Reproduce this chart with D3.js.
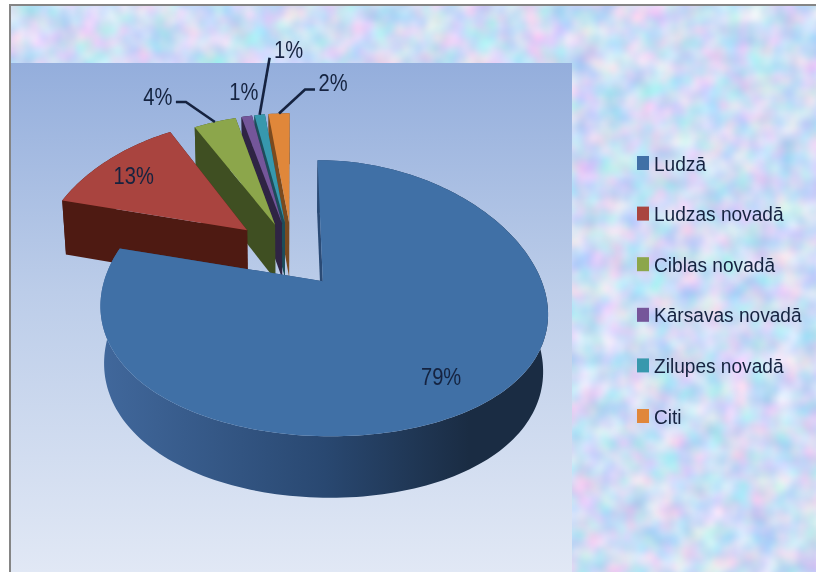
<!DOCTYPE html>
<html>
<head>
<meta charset="utf-8">
<script src="https://cdn.jsdelivr.net/npm/d3@7"></script>
<style>
html,body{margin:0;padding:0;background:#fff;overflow:hidden}
text{font-family:"Liberation Sans",sans-serif;fill:#14233f}
</style>
</head>
<body>
<div id="chart"></div>
<script>
var categories = ["Ludzā", "Ludzas novadā", "Ciblas novadā", "Kārsavas novadā", "Zilupes novadā", "Citi"];
var values = [79, 13, 4, 1, 1, 2];
var topColors = ["#4070a6", "#a9443f", "#8ca64b", "#74569a", "#3798ad", "#e0873a"];
var sideColors = ["#2a4a75", "#4e1a12", "#3f4f22", "#2f2444", "#1d4d5a", "#7a4a1f"];

var width = 816, height = 572;
var explodeX = 0.23, explodeY = 0.255;
var explodeScale = [1, 1.22, 1, 1, 1, 1];

// simple perspective camera for the tilted pie, z goes from top face (0) to bottom face (1)
var cam = {cx: 292, cy: 254.5, R: 210, k: 129.5, h: 57, px: 0.2, py: 0.12, q: 0.018};
function project(u, v, z){
    var wx = 1 - cam.px*v + cam.q*z;
    var wy = 1 - cam.py*v + cam.q*z;
    return [cam.cx + cam.R*u/wx, cam.cy + (cam.k*v + cam.h*z)/wy];
}
function rimPoint(s, a, r, z){
    return project(s.ox + r*Math.sin(a), s.oy - r*Math.cos(a), z);
}

var svg = d3.select('#chart').append('svg')
    .attr('width', width)
    .attr('height', height)
    .style('display', 'block');
var defs = svg.append('defs');

// mottled paper background
var paper = defs.append('filter').attr('id', 'paper')
    .attr('x', 0).attr('y', 0).attr('width', '100%').attr('height', '100%')
    .attr('color-interpolation-filters', 'sRGB');
paper.append('feTurbulence').attr('type', 'fractalNoise')
    .attr('baseFrequency', 0.04).attr('numOctaves', 2).attr('seed', 11);
paper.append('feColorMatrix').attr('type', 'matrix')
    .attr('values', '0.45 0 0 0 0.58  0 0.25 0 0 0.74  0 0 0.12 0 0.9  0 0 0 0 1');

// blurry scan look for the texts
var soft = defs.append('filter').attr('id', 'soft');
soft.append('feGaussianBlur').attr('stdDeviation', 0.4);

var plotGrad = defs.append('linearGradient').attr('id', 'plotGrad')
    .attr('x1', 0).attr('y1', 0).attr('x2', 0).attr('y2', 1);
plotGrad.append('stop').attr('offset', '0%').attr('stop-color', '#94aedc');
plotGrad.append('stop').attr('offset', '45%').attr('stop-color', '#bccde9');
plotGrad.append('stop').attr('offset', '100%').attr('stop-color', '#e1e8f5');

// the rim shading goes dark from left to right
var rimGrad = defs.append('linearGradient').attr('id', 'rimGrad')
    .attr('gradientUnits', 'userSpaceOnUse')
    .attr('x1', 100).attr('y1', 0).attr('x2', 550).attr('y2', 0);
rimGrad.append('stop').attr('offset', '0%').attr('stop-color', '#41689c');
rimGrad.append('stop').attr('offset', '50%').attr('stop-color', '#294871');
rimGrad.append('stop').attr('offset', '82%').attr('stop-color', '#1a2c43');
rimGrad.append('stop').attr('offset', '100%').attr('stop-color', '#1a2c43');

svg.append('rect').attr('x', 10).attr('y', 5).attr('width', width - 10).attr('height', height - 5)
    .attr('fill', '#cfe2f8').attr('filter', 'url(#paper)');
svg.append('rect').attr('x', 11).attr('y', 63).attr('width', 561).attr('height', height - 63)
    .attr('fill', 'url(#plotGrad)');
svg.append('path').attr('d', 'M10,' + height + 'V5H' + width)
    .attr('fill', 'none').attr('stroke', '#858585').attr('stroke-width', 2);

// pie
var pie = d3.pie().sort(null).value(function(d){ return d; });
var slices = pie(values).map(function(d, i){
    var mid = (d.startAngle + d.endAngle)/2;
    return {
	i: i, start: d.startAngle, end: d.endAngle, mid: mid,
	ox: explodeScale[i]*explodeX*Math.sin(mid), oy: -explodeScale[i]*explodeY*Math.cos(mid)
    };
});

var line = d3.line();
function topFace(s, z){
    var n = Math.max(4, Math.ceil((s.end - s.start)*40));
    var pts = [project(s.ox, s.oy, z)];
    d3.range(n + 1).forEach(function(j){
	pts.push(rimPoint(s, s.start + (s.end - s.start)*j/n, 1, z));
    });
    return line(pts) + 'Z';
}
function rimWall(s){
    var n = Math.max(4, Math.ceil((s.end - s.start)*40));
    var up = [], down = [];
    d3.range(n + 1).forEach(function(j){
	var a = s.start + (s.end - s.start)*j/n;
	up.push(rimPoint(s, a, 1, 0));
	down.unshift(rimPoint(s, a, 1, 1));
    });
    return line(up.concat(down)) + 'Z';
}
function cutWall(s, a){
    return line([
	project(s.ox, s.oy, 0), rimPoint(s, a, 1, 0),
	rimPoint(s, a, 1, 1), project(s.ox, s.oy, 1)
    ]) + 'Z';
}

var pieG = svg.append('g').attr('class', 'pie');
// back slices first, the big one last
var order = [5, 4, 3, 2, 1, 0];
order.forEach(function(idx){
    var s = slices[idx];
    var g = pieG.append('g');
    var side = idx === 0 ? 'url(#rimGrad)' : sideColors[idx];
    g.append('path').attr('d', rimWall(s)).attr('fill', side);
    [s.start, s.end].sort(function(a, b){
	return rimPoint(s, a, 1, 0)[1] - rimPoint(s, b, 1, 0)[1];
    }).forEach(function(a){
	g.append('path').attr('d', cutWall(s, a)).attr('fill', sideColors[idx]);
    });
    g.append('path').attr('d', topFace(s, 0)).attr('fill', topColors[idx]);
});

// data labels: r on the slice, then a nudge in pixels
var labelR = [0.8, 0.75, 1, 1, 1, 1];
var labelDx = [-10, -7, -57, -3, 29, 54];
var labelDy = [2, -1, -26, -25, -65, -31];
// leader bends, relative to the rim point
var leaders = [null, null, [[-29, -20], [-39, -20]], null, [[10, -57]], [[26, -24], [36, -24]]];

var labels = svg.append('g').attr('class', 'labels').attr('filter', 'url(#soft)');
slices.forEach(function(s, i){
    var p = rimPoint(s, s.mid, labelR[i], 0);
    if (leaders[i]) {
	var pts = [p].concat(leaders[i].map(function(o){ return [p[0] + o[0], p[1] + o[1]]; }));
	labels.append('path').attr('d', line(pts))
	    .attr('fill', 'none').attr('stroke', '#14233f').attr('stroke-width', 2.6);
    }
    labels.append('text')
	.attr('transform', 'translate(' + (p[0] + labelDx[i]) + ',' + (p[1] + labelDy[i]) + ') scale(0.84,1)')
	.attr('dy', '0.36em')
	.attr('text-anchor', 'middle')
	.attr('font-size', 24)
	.text(values[i] + '%');
});

// legend
var legendY = d3.scalePoint().domain(categories).range([163, 416]);
var legend = svg.append('g').attr('class', 'legend').attr('filter', 'url(#soft)').selectAll('g')
    .data(categories)
    .enter().append('g')
    .attr('transform', function(d){ return 'translate(637,' + legendY(d) + ')'; });
legend.append('rect')
    .attr('y', -7).attr('width', 12).attr('height', 14)
    .attr('fill', function(d, i){ return topColors[i]; });
legend.append('text')
    .attr('transform', 'translate(17,0) scale(0.91,1)')
    .attr('dy', '0.36em')
    .attr('font-size', 21)
    .text(function(d){ return d; });
</script>
</body>
</html>
